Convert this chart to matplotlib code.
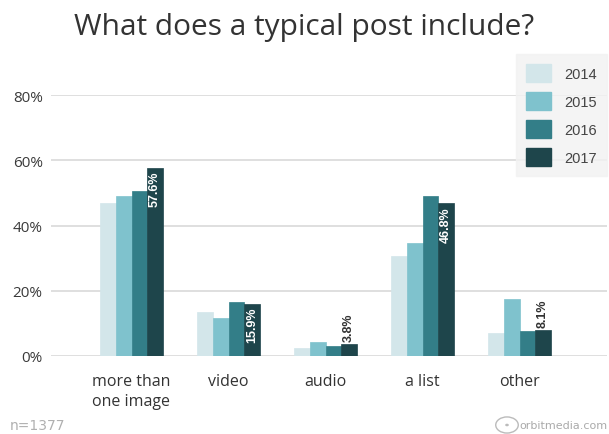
import numpy as np
import matplotlib
matplotlib.use("Agg")
from matplotlib import pyplot as plt
from matplotlib.patches import Patch, Circle

categories = ["more than\none image", "video", "audio", "a list", "other"]
years = ["2014", "2015", "2016", "2017"]
v2014 = [46.9, 13.5, 2.5, 30.8, 7.0]
v2015 = [49.1, 11.8, 4.3, 34.5, 17.5]
v2016 = [50.7, 16.4, 3.1, 48.9, 7.8]
v2017 = [57.6, 15.9, 3.8, 46.8, 8.1]
yticks = [0, 20, 40, 60, 80]

colors = ["#d3e6ea", "#7fc2cd", "#337e88", "#1e454b"]
series = [v2014, v2015, v2016, v2017]

plt.rcParams['font.family'] = ['Open Sans', 'DejaVu Sans']

fig = plt.figure(figsize=(6.09, 4.35), dpi=100)
ax = fig.add_axes([51/609, 1-357/435, 556/609, 261/435])

x = np.arange(len(categories))
w = 0.161
for i, vals in enumerate(series):
    ax.bar(x + (i - 1.5) * w, vals, w, color=colors[i], edgecolor=colors[i],
           linewidth=0.5, zorder=3)

# value labels on the 2017 bars
for xi, v in zip(x, v2017):
    bx = xi + 1.5 * w
    txt = "%.1f%%" % v
    if v > 12:
        ax.text(bx, v - 0.8, txt, rotation=90, ha="center", va="top",
                color="white", fontsize=9, fontweight="bold", family="Liberation Sans", zorder=4)
    else:
        ax.text(bx, v + 0.8, txt, rotation=90, ha="center", va="bottom",
                color="#333333", fontsize=9, fontweight="bold", family="Liberation Sans", zorder=4)

ax.set_xlim(-0.83, 4.9)
ax.set_ylim(0, 80)
ax.set_yticks(yticks)
ax.set_yticklabels(["%d%%" % t for t in yticks])
ax.set_xticks(x)
ax.set_xticklabels(categories, ha="center", multialignment="left", linespacing=1.4)
ax.tick_params(axis="y", length=0, pad=6, labelsize=11, labelcolor="#3a3a3a")
ax.tick_params(axis="x", length=0, pad=12, labelsize=11.5, labelcolor="#333333")
ax.grid(axis="y", color="#d9d9d9", linewidth=1.2, zorder=0)
ax.set_axisbelow(True)
for s in ax.spines.values():
    s.set_visible(False)

fig.text(0.5, 1-28/435, "What does a typical post include?", ha="center", va="center",
         fontsize=21.5, color="#333333")

handles = [Patch(facecolor=c, edgecolor=c, label=y) for c, y in zip(colors, years)]
leg = fig.legend(handles=handles, loc="upper right", bbox_to_anchor=(607/609, 1-55/435),
                 frameon=True, fancybox=False, fontsize=10.5, handlelength=1.7,
                 handleheight=1.5, labelspacing=0.7, borderpad=0.7, handletextpad=0.9,
                 borderaxespad=0)
leg.get_frame().set_facecolor("#f2f2f2")
leg.get_frame().set_edgecolor("#f2f2f2")
for t in leg.get_texts():
    t.set_color("#444444")
    t.set_family("Liberation Sans")

fig.text(10/609, 1-426/435, "n=1377", ha="left", va="center", fontsize=10,
         color="#b0b0b0", family="DejaVu Sans")
fig.text(608/609, 1-426/435, "orbitmedia.com", ha="right", va="center", fontsize=8,
         color="#aaaaaa", family="DejaVu Sans")
logo = Circle((507/609, 1-426/435), 0.0185, transform=fig.transFigure, fill=False,
              edgecolor="#bbbbbb", linewidth=1.0)
dot = Circle((507/609, 1-426/435), 0.003, transform=fig.transFigure,
             facecolor="#bbbbbb", edgecolor="none")
fig.patches.extend([logo, dot])

fig.savefig("out.png", dpi=100)
